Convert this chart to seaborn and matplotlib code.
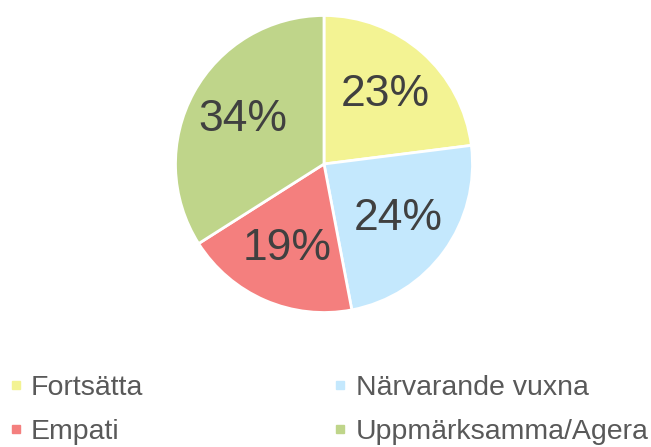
import matplotlib
matplotlib.use("Agg")
import matplotlib.pyplot as plt
from matplotlib.lines import Line2D
import seaborn as sns

categories = ["Fortsätta", "Närvarande vuxna", "Empati", "Uppmärksamma/Agera"]
shares = [23, 24, 19, 34]
colors = ["#F3F393", "#C4E8FD", "#F47F7E", "#BFD58A"]

sns.set_theme(style="white")
plt.rcParams['font.family'] = ['Liberation Sans', 'DejaVu Sans']

W, H = 651, 447
fig = plt.figure(figsize=(W / 100, H / 100), dpi=100)

# pie centre and radius in pixels
cx, cy, r = 324, 164, 150
ax = fig.add_axes([(cx - r) / W, (H - cy - r) / H, 2 * r / W, 2 * r / H])
wedges, texts, autotexts = ax.pie(
    shares, colors=colors, startangle=90, counterclock=False,
    autopct="%d%%", pctdistance=0.62, radius=1,
    wedgeprops=dict(edgecolor="white", linewidth=2),
    textprops=dict(color="#404040", fontsize=32))
ax.set_xlim(-1.01, 1.01)
ax.set_ylim(-1.01, 1.01)
ax.set_aspect("equal")
ax.axis("off")

# legend: column-major order
order = [0, 2, 1, 3]
handles = [Line2D([], [], marker="s", linestyle="none", markersize=6,
                  markerfacecolor=colors[i], markeredgecolor=colors[i])
           for i in order]
labels = [categories[i] for i in order]
fig.legend(handles, labels, loc="upper left",
           bbox_to_anchor=(5 / W, 1 - 369 / H),
           ncol=2, frameon=False, fontsize=20.5, handlelength=0.35,
           handletextpad=0.36, labelspacing=0.64, columnspacing=6.75,
           labelcolor="#595959", borderaxespad=0, borderpad=0.2)

fig.savefig("out.png", dpi=100, facecolor="white")
